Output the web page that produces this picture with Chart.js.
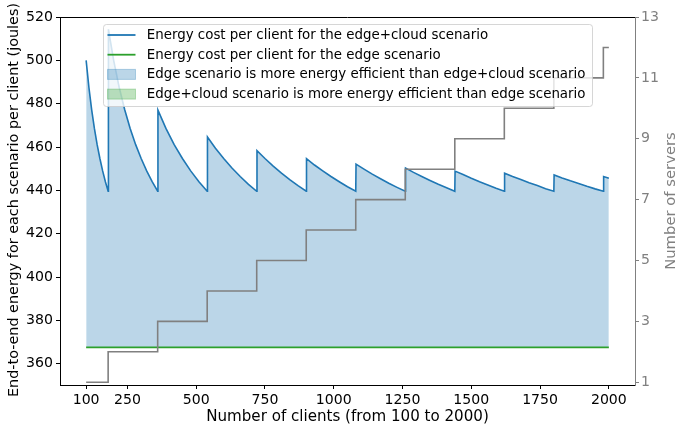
<!DOCTYPE html>
<html>
<head>
<meta charset="utf-8">
<script src="https://cdn.jsdelivr.net/npm/chart.js@4/dist/chart.umd.min.js"></script>
<style>
html,body{margin:0;padding:0;background:#fff;}
#wrap{width:676px;height:429px;position:relative;}
</style>
</head>
<body>
<div id="wrap"><canvas id="c" width="676" height="429"></canvas></div>
<script>
// ---- data ----
const clients = [100,110,120,130,140,150,160,170,180,
  181,200,220,240,260,280,300,320,340,360,
  361,390,420,450,480,510,540,
  541,570,600,630,660,690,720,
  721,750,780,810,840,870,900,
  901,930,960,990,1020,1050,1080,
  1081,1110,1140,1170,1200,1230,1260,
  1261,1290,1320,1350,1380,1410,1440,
  1441,1470,1500,1530,1560,1590,1620,
  1621,1650,1680,1710,1740,1770,1800,
  1801,1830,1860,1890,1920,1950,1980,
  1981,2000];
const energyEdgeCloud = [500.0,487.6,477.3,468.6,461.1,454.7,449.0,444.0,439.6,
  514.3,500.0,487.6,477.3,468.6,461.1,454.7,449.0,444.0,439.6,
  477.0,468.6,461.1,454.7,449.0,444.0,439.6,
  464.6,459.4,454.7,450.3,446.4,442.8,439.6,
  458.3,454.7,451.2,448.0,445.0,442.2,439.6,
  454.6,451.7,449.0,446.4,444.0,441.7,439.6,
  452.1,449.8,447.5,445.4,443.3,441.4,439.6,
  450.3,448.3,446.4,444.6,442.8,441.2,439.6,
  448.9,447.3,445.6,444.0,442.5,441.0,439.6,
  447.9,446.4,445.0,443.5,442.2,440.8,439.6,
  447.1,445.7,444.4,443.2,441.9,440.7,439.6,
  446.4,445.6];
const edgeClients = [100, 2000];
const energyEdge = [367.6, 367.6];
const serverClients = [100,180,360,540,720,900,1080,1260,1440,1620,1800,1980,2000];
const servers = [1,2,3,4,5,6,7,8,9,10,11,12,12];
const xTicks = [100,250,500,750,1000,1250,1500,1750,2000];
const yTicksLeft = [360,380,400,420,440,460,480,500,520];
const yTicksRight = [1,3,5,7,9,11,13];
const legendLabels = [
  "Energy cost per client for the edge+cloud scenario",
  "Energy cost per client for the edge scenario",
  "Edge scenario is more energy efficient than edge+cloud scenario",
  "Edge+cloud scenario is more energy efficient than edge scenario"
];
const xTitle = "Number of clients (from 100 to 2000)";
const yTitle = "End-to-end energy for each scenario per client (joules)";
const y2Title = "Number of servers";

const BLUE = '#1f77b4', GREEN = '#2ca02c', GRAY = '#808080';
const BLUE_FILL = 'rgba(31,119,180,0.3)', GREEN_FILL = 'rgba(44,160,44,0.3)';
const FONT = "'DejaVu Sans', sans-serif";

const toXY = (xs, ys) => xs.map((x, i) => ({x: x, y: ys[i]}));
const plain = (v) => String(v);

const decor = {
  id: 'decor',
  afterDraw(chart) {
    const ctx = chart.ctx, a = chart.chartArea;
    ctx.save();
    // top spine
    ctx.strokeStyle = '#000';
    ctx.lineWidth = 1;
    ctx.beginPath();
    ctx.moveTo(a.left, Math.round(a.top) + 0.5);
    ctx.lineTo(a.right, Math.round(a.top) + 0.5);
    ctx.stroke();

    // axis titles
    ctx.fillStyle = '#000';
    ctx.font = "15.1px " + FONT;
    ctx.textAlign = 'center';
    ctx.textBaseline = 'alphabetic';
    ctx.fillText(xTitle, (a.left + a.right) / 2, 421);

    ctx.save();
    ctx.translate(18.3, 200);
    ctx.rotate(-Math.PI / 2);
    ctx.font = "14.4px " + FONT;
    ctx.fillText(yTitle, 0, 0);
    ctx.restore();

    ctx.save();
    ctx.translate(675, 201);
    ctx.rotate(-Math.PI / 2);
    ctx.font = "14.8px " + FONT;
    ctx.fillStyle = GRAY;
    ctx.fillText(y2Title, 0, 0);
    ctx.restore();

    // legend
    const bx = 103.5, by = 24.5, bw = 489, bh = 82, r = 3;
    ctx.fillStyle = 'rgba(255,255,255,0.8)';
    ctx.strokeStyle = 'rgba(204,204,204,0.8)';
    ctx.lineWidth = 1;
    ctx.beginPath();
    ctx.moveTo(bx + r, by);
    ctx.lineTo(bx + bw - r, by);
    ctx.arcTo(bx + bw, by, bx + bw, by + r, r);
    ctx.lineTo(bx + bw, by + bh - r);
    ctx.arcTo(bx + bw, by + bh, bx + bw - r, by + bh, r);
    ctx.lineTo(bx + r, by + bh);
    ctx.arcTo(bx, by + bh, bx, by + bh - r, r);
    ctx.lineTo(bx, by + r);
    ctx.arcTo(bx, by, bx + r, by, r);
    ctx.closePath();
    ctx.fill();
    ctx.stroke();

    const rows = [35, 54.7, 74.4, 94.1];
    const hx0 = 107.5, hx1 = 135.5;
    ctx.lineWidth = 1.8;
    ctx.strokeStyle = BLUE;
    ctx.beginPath(); ctx.moveTo(hx0, rows[0]); ctx.lineTo(hx1, rows[0]); ctx.stroke();
    ctx.strokeStyle = GREEN;
    ctx.beginPath(); ctx.moveTo(hx0, rows[1]); ctx.lineTo(hx1, rows[1]); ctx.stroke();
    ctx.fillStyle = BLUE_FILL;
    ctx.fillRect(hx0, rows[2] - 5, hx1 - hx0, 10);
    ctx.strokeStyle = BLUE_FILL; ctx.lineWidth = 1;
    ctx.strokeRect(hx0, rows[2] - 5, hx1 - hx0, 10);
    ctx.fillStyle = GREEN_FILL;
    ctx.fillRect(hx0, rows[3] - 5, hx1 - hx0, 10);
    ctx.strokeStyle = GREEN_FILL;
    ctx.strokeRect(hx0, rows[3] - 5, hx1 - hx0, 10);

    ctx.fillStyle = '#000';
    ctx.font = "13.4px " + FONT;
    ctx.textAlign = 'left';
    ctx.textBaseline = 'middle';
    legendLabels.forEach((t, i) => ctx.fillText(t, 146.7, rows[i] + 0.5));
    ctx.restore();
  }
};

new Chart(document.getElementById('c'), {
  type: 'scatter',
  data: {
    datasets: [
      {
        label: 'servers',
        data: toXY(serverClients, servers),
        yAxisID: 'y2',
        showLine: true,
        stepped: 'before',
        borderColor: GRAY,
        borderWidth: 1.6,
        pointRadius: 0,
        fill: false
      },
      {
        label: legendLabels[1],
        data: toXY(edgeClients, energyEdge),
        yAxisID: 'y',
        showLine: true,
        borderColor: GREEN,
        borderWidth: 1.8,
        pointRadius: 0,
        fill: false
      },
      {
        label: legendLabels[0],
        data: toXY(clients, energyEdgeCloud),
        yAxisID: 'y',
        showLine: true,
        borderColor: BLUE,
        borderWidth: 1.6,
        pointRadius: 0,
        tension: 0,
        fill: {target: {value: energyEdge[0]}, above: BLUE_FILL, below: GREEN_FILL}
      }
    ]
  },
  options: {
    responsive: false,
    devicePixelRatio: 1,
    animation: false,
    layout: {padding: {top: 17, left: 0, right: 0, bottom: 0}},
    plugins: {legend: {display: false}, tooltip: {enabled: false}, title: {display: false}},
    scales: {
      x: {
        type: 'linear',
        min: 5, max: 2095,
        afterBuildTicks: (s) => { s.ticks = xTicks.map(v => ({value: v})); },
        afterFit: (s) => { s.height = 44; },
        ticks: {color: '#000', font: {family: FONT, size: 14.1}, padding: 3, maxRotation: 0, autoSkip: false, callback: plain},
        grid: {display: true, drawOnChartArea: false, drawTicks: true, tickLength: 4, color: '#000', lineWidth: 1},
        border: {display: true, color: '#000', width: 1}
      },
      y: {
        position: 'left',
        min: 350.2, max: 520,
        afterBuildTicks: (s) => { s.ticks = yTicksLeft.map(v => ({value: v})); },
        afterFit: (s) => { s.width = 60; },
        ticks: {color: '#000', font: {family: FONT, size: 14.1}, padding: 3, autoSkip: false, callback: plain},
        grid: {display: true, drawOnChartArea: false, drawTicks: true, tickLength: 4, color: '#000', lineWidth: 1},
        border: {display: true, color: '#000', width: 1}
      },
      y2: {
        position: 'right',
        min: 0.91, max: 13,
        afterBuildTicks: (s) => { s.ticks = yTicksRight.map(v => ({value: v})); },
        afterFit: (s) => { s.width = 41; },
        ticks: {color: GRAY, font: {family: FONT, size: 14.1}, padding: 2, autoSkip: false, callback: plain},
        grid: {display: true, drawOnChartArea: false, drawTicks: true, tickLength: 4, color: GRAY, lineWidth: 1},
        border: {display: true, color: GRAY, width: 1}
      }
    }
  },
  plugins: [decor]
});
</script>
</body>
</html>
